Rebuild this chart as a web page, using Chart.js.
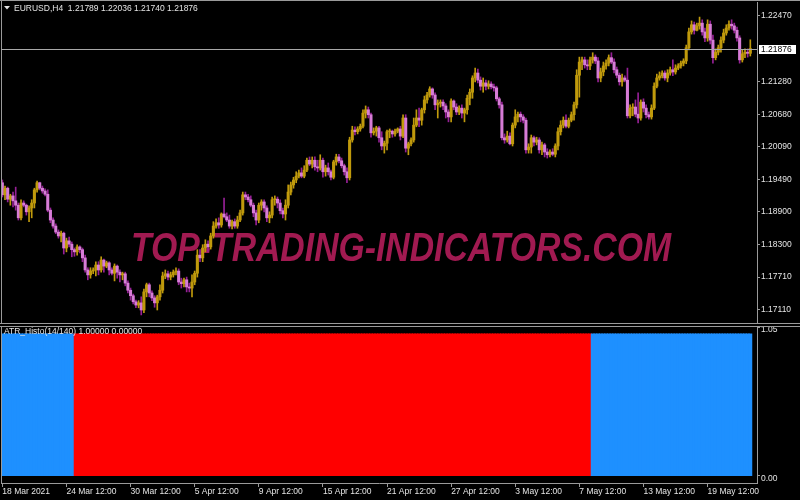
<!DOCTYPE html>
<html><head><meta charset="utf-8">
<script src="https://cdn.jsdelivr.net/npm/chart.js@4.4.1/dist/chart.umd.min.js"></script>
<style>
html,body{margin:0;padding:0;background:#000;width:800px;height:500px;overflow:hidden}
canvas{position:absolute;left:0}
#c1{top:0}
#c2{top:325px}
</style></head><body>
<canvas id="c1" width="800" height="325"></canvas>
<canvas id="c2" width="800" height="175"></canvas>
<script>
const symbolTitle = 'EURUSD,H4';
const opens = [
1.1943,1.1921,1.1933,1.1913,1.1919,1.1910,1.1902,1.1879,1.1906,1.1902,
1.1890,1.1897,1.1906,1.1930,1.1943,1.1933,1.1928,1.1922,1.1893,1.1875,
1.1864,1.1853,1.1846,1.1851,1.1824,1.1837,1.1831,1.1821,1.1817,1.1826,
1.1821,1.1806,1.1784,1.1775,1.1782,1.1784,1.1793,1.1784,1.1802,1.1791,
1.1797,1.1784,1.1778,1.1791,1.1780,1.1775,1.1777,1.1760,1.1747,1.1737,
1.1726,1.1720,1.1724,1.1711,1.1744,1.1757,1.1742,1.1733,1.1724,1.1735,
1.1747,1.1773,1.1777,1.1771,1.1775,1.1780,1.1782,1.1762,1.1759,1.1766,
1.1753,1.1751,1.1762,1.1778,1.1811,1.1806,1.1824,1.1831,1.1826,1.1846,
1.1864,1.1870,1.1866,1.1886,1.1881,1.1875,1.1864,1.1872,1.1864,1.1875,
1.1888,1.1921,1.1917,1.1912,1.1902,1.1888,1.1875,1.1902,1.1908,1.1897,
1.1879,1.1884,1.1912,1.1913,1.1906,1.1892,1.1886,1.1902,1.1926,1.1939,
1.1948,1.1955,1.1961,1.1955,1.1966,1.1984,1.1977,1.1984,1.1972,1.1970,
1.1984,1.1963,1.1970,1.1963,1.1953,1.1981,1.1990,1.1983,1.1974,1.1963,
1.1952,1.2021,1.2039,1.2036,1.2041,1.2046,1.2070,1.2076,1.2067,1.2034,
1.2037,1.2043,1.2025,1.2010,1.2015,1.2036,1.2037,1.2032,1.2037,1.2041,
1.2028,1.2061,1.2006,1.2014,1.2021,1.2048,1.2061,1.2057,1.2076,1.2094,
1.2103,1.2114,1.2103,1.2085,1.2088,1.2090,1.2083,1.2072,1.2063,1.2092,
1.2081,1.2072,1.2079,1.2070,1.2076,1.2097,1.2108,1.2134,1.2143,1.2130,
1.2119,1.2125,1.2119,1.2123,1.2118,1.2116,1.2096,1.2085,1.2025,1.2021,
1.2028,1.2014,1.2048,1.2063,1.2068,1.2063,1.2057,1.2003,1.2008,1.2025,
1.2017,1.2021,1.2003,1.2012,1.1999,1.1994,1.1999,1.1995,1.2010,1.2036,
1.2048,1.2057,1.2046,1.2057,1.2067,1.2085,1.2139,1.2163,1.2167,1.2158,
1.2156,1.2167,1.2172,1.2165,1.2134,1.2145,1.2156,1.2161,1.2171,1.2163,
1.2149,1.2139,1.2127,1.2134,1.2130,1.2065,1.2079,1.2081,1.2068,1.2061,
1.2090,1.2079,1.2067,1.2063,1.2079,1.2119,1.2134,1.2138,1.2143,1.2134,
1.2143,1.2149,1.2145,1.2152,1.2156,1.2161,1.2165,1.2189,1.2218,1.2231,
1.2221,1.2229,1.2234,1.2218,1.2207,1.2232,1.2203,1.2171,1.2181,1.2189,
1.2203,1.2216,1.2225,1.2232,1.2229,1.2221,1.2207,1.2167,1.2178,1.2181,
1.21789];
const highs = [
1.1948,1.1937,1.1935,1.1922,1.1926,1.1935,1.1906,1.1912,1.1910,1.1904,
1.1901,1.1912,1.1933,1.1946,1.1944,1.1937,1.1932,1.1930,1.1897,1.1879,
1.1868,1.1857,1.1855,1.1853,1.1842,1.1844,1.1835,1.1824,1.1830,1.1828,
1.1824,1.1811,1.1788,1.1788,1.1788,1.1799,1.1799,1.1808,1.1804,1.1800,
1.1799,1.1788,1.1795,1.1793,1.1784,1.1780,1.1780,1.1764,1.1751,1.1740,
1.1729,1.1728,1.1735,1.1749,1.1760,1.1760,1.1746,1.1737,1.1738,1.1757,
1.1780,1.1784,1.1782,1.1780,1.1784,1.1788,1.1786,1.1769,1.1769,1.1771,
1.1760,1.1775,1.1782,1.1821,1.1821,1.1830,1.1839,1.1837,1.1851,1.1872,
1.1877,1.1879,1.1888,1.1915,1.1888,1.1884,1.1875,1.1877,1.1882,1.1893,
1.1926,1.1926,1.1922,1.1919,1.1906,1.1893,1.1906,1.1912,1.1912,1.1901,
1.1890,1.1917,1.1919,1.1917,1.1912,1.1897,1.1912,1.1939,1.1944,1.1953,
1.1963,1.1966,1.1970,1.1974,1.1988,1.1990,1.1990,1.1990,1.1984,1.1994,
1.1988,1.1975,1.1979,1.1966,1.1984,1.1995,1.1995,1.1988,1.1977,1.1970,
1.2026,1.2046,1.2045,1.2045,1.2050,1.2076,1.2083,1.2081,1.2070,1.2043,
1.2046,1.2046,1.2036,1.2019,1.2039,1.2041,1.2039,1.2041,1.2043,1.2046,
1.2067,1.2067,1.2017,1.2025,1.2061,1.2076,1.2079,1.2079,1.2101,1.2108,
1.2118,1.2116,1.2107,1.2094,1.2094,1.2094,1.2087,1.2076,1.2096,1.2094,
1.2087,1.2083,1.2085,1.2079,1.2103,1.2114,1.2138,1.2152,1.2150,1.2136,
1.2134,1.2130,1.2129,1.2127,1.2123,1.2119,1.2099,1.2090,1.2032,1.2037,
1.2034,1.2052,1.2076,1.2072,1.2072,1.2067,1.2061,1.2014,1.2030,1.2028,
1.2026,1.2025,1.2017,1.2015,1.2005,1.2003,1.2005,1.2014,1.2043,1.2056,
1.2063,1.2067,1.2061,1.2072,1.2090,1.2149,1.2172,1.2172,1.2172,1.2167,
1.2172,1.2180,1.2176,1.2171,1.2152,1.2163,1.2167,1.2176,1.2180,1.2169,
1.2154,1.2143,1.2141,1.2138,1.2152,1.2085,1.2087,1.2094,1.2107,1.2094,
1.2096,1.2085,1.2072,1.2085,1.2125,1.2141,1.2145,1.2147,1.2147,1.2149,
1.2154,1.2167,1.2158,1.2160,1.2165,1.2169,1.2194,1.2225,1.2238,1.2236,
1.2234,1.2245,1.2240,1.2225,1.2240,1.2238,1.2212,1.2187,1.2194,1.2209,
1.2223,1.2231,1.2238,1.2240,1.2234,1.2227,1.2211,1.2185,1.2187,1.2187,
1.22036];
const lows = [
1.1917,1.1912,1.1908,1.1902,1.1899,1.1893,1.1875,1.1875,1.1899,1.1884,
1.1872,1.1879,1.1897,1.1926,1.1930,1.1924,1.1919,1.1890,1.1870,1.1860,
1.1850,1.1842,1.1835,1.1813,1.1817,1.1826,1.1808,1.1809,1.1811,1.1815,
1.1799,1.1780,1.1766,1.1769,1.1777,1.1773,1.1775,1.1780,1.1780,1.1788,
1.1775,1.1775,1.1764,1.1769,1.1762,1.1766,1.1755,1.1742,1.1729,1.1722,
1.1715,1.1715,1.1702,1.1706,1.1735,1.1735,1.1728,1.1716,1.1711,1.1729,
1.1742,1.1768,1.1766,1.1766,1.1771,1.1775,1.1757,1.1751,1.1753,1.1744,
1.1744,1.1735,1.1757,1.1771,1.1799,1.1799,1.1817,1.1817,1.1822,1.1842,
1.1860,1.1860,1.1862,1.1879,1.1872,1.1860,1.1859,1.1860,1.1860,1.1872,
1.1884,1.1912,1.1908,1.1899,1.1881,1.1866,1.1870,1.1893,1.1890,1.1872,
1.1870,1.1879,1.1902,1.1897,1.1886,1.1879,1.1875,1.1897,1.1921,1.1933,
1.1943,1.1952,1.1952,1.1952,1.1963,1.1974,1.1970,1.1966,1.1963,1.1966,
1.1953,1.1955,1.1957,1.1948,1.1950,1.1975,1.1979,1.1970,1.1957,1.1943,
1.1948,1.2017,1.2030,1.2032,1.2037,1.2043,1.2061,1.2061,1.2026,1.2030,
1.2028,1.2017,1.2003,1.1997,1.2003,1.2025,1.2026,1.2028,1.2034,1.2021,
1.2025,1.1999,1.1994,1.2010,1.2017,1.2045,1.2045,1.2048,1.2070,1.2088,
1.2099,1.2097,1.2076,1.2061,1.2081,1.2076,1.2061,1.2054,1.2054,1.2076,
1.2067,1.2067,1.2061,1.2054,1.2068,1.2085,1.2097,1.2127,1.2125,1.2112,
1.2108,1.2112,1.2114,1.2114,1.2110,1.2092,1.2079,1.2021,1.2015,1.2017,
1.2012,1.2010,1.2043,1.2054,1.2054,1.2052,1.1997,1.1997,1.1997,1.2010,
1.2012,1.1997,1.1994,1.1990,1.1988,1.1990,1.1992,1.1990,1.2003,1.2030,
1.2043,1.2043,1.2043,1.2054,1.2057,1.2079,1.2099,1.2149,1.2152,1.2149,
1.2149,1.2161,1.2160,1.2127,1.2127,1.2138,1.2150,1.2156,1.2160,1.2143,
1.2134,1.2121,1.2119,1.2127,1.2061,1.2061,1.2065,1.2063,1.2052,1.2057,
1.2072,1.2061,1.2059,1.2059,1.2076,1.2116,1.2130,1.2134,1.2130,1.2127,
1.2139,1.2138,1.2141,1.2149,1.2152,1.2156,1.2160,1.2185,1.2214,1.2214,
1.2220,1.2223,1.2212,1.2200,1.2201,1.2196,1.2161,1.2167,1.2176,1.2181,
1.2198,1.2212,1.2221,1.2223,1.2216,1.2201,1.2161,1.2163,1.2171,1.2172,
1.21740];
const closes = [
1.1921,1.1933,1.1913,1.1919,1.1910,1.1902,1.1879,1.1906,1.1902,1.1890,
1.1897,1.1906,1.1930,1.1943,1.1933,1.1928,1.1922,1.1893,1.1875,1.1864,
1.1853,1.1846,1.1851,1.1824,1.1837,1.1831,1.1821,1.1817,1.1826,1.1821,
1.1806,1.1784,1.1775,1.1782,1.1784,1.1793,1.1784,1.1802,1.1791,1.1797,
1.1784,1.1778,1.1791,1.1780,1.1775,1.1777,1.1760,1.1747,1.1737,1.1726,
1.1720,1.1724,1.1711,1.1744,1.1757,1.1742,1.1733,1.1724,1.1735,1.1747,
1.1773,1.1777,1.1771,1.1775,1.1780,1.1782,1.1762,1.1759,1.1766,1.1753,
1.1751,1.1762,1.1778,1.1811,1.1806,1.1824,1.1831,1.1826,1.1846,1.1864,
1.1870,1.1866,1.1886,1.1881,1.1875,1.1864,1.1872,1.1864,1.1875,1.1888,
1.1921,1.1917,1.1912,1.1902,1.1888,1.1875,1.1902,1.1908,1.1897,1.1879,
1.1884,1.1912,1.1913,1.1906,1.1892,1.1886,1.1902,1.1926,1.1939,1.1948,
1.1955,1.1961,1.1955,1.1966,1.1984,1.1977,1.1984,1.1972,1.1970,1.1984,
1.1963,1.1970,1.1963,1.1953,1.1981,1.1990,1.1983,1.1974,1.1963,1.1952,
1.2021,1.2039,1.2036,1.2041,1.2046,1.2070,1.2076,1.2067,1.2034,1.2037,
1.2043,1.2025,1.2010,1.2015,1.2036,1.2037,1.2032,1.2037,1.2041,1.2028,
1.2061,1.2006,1.2014,1.2021,1.2048,1.2061,1.2057,1.2076,1.2094,1.2103,
1.2114,1.2103,1.2085,1.2088,1.2090,1.2083,1.2072,1.2063,1.2092,1.2081,
1.2072,1.2079,1.2070,1.2076,1.2097,1.2108,1.2134,1.2143,1.2130,1.2119,
1.2125,1.2119,1.2123,1.2118,1.2116,1.2096,1.2085,1.2025,1.2021,1.2028,
1.2014,1.2048,1.2063,1.2068,1.2063,1.2057,1.2003,1.2008,1.2025,1.2017,
1.2021,1.2003,1.2012,1.1999,1.1994,1.1999,1.1995,1.2010,1.2036,1.2048,
1.2057,1.2046,1.2057,1.2067,1.2085,1.2139,1.2163,1.2167,1.2158,1.2156,
1.2167,1.2172,1.2165,1.2134,1.2145,1.2156,1.2161,1.2171,1.2163,1.2149,
1.2139,1.2127,1.2134,1.2130,1.2065,1.2079,1.2081,1.2068,1.2061,1.2090,
1.2079,1.2067,1.2063,1.2079,1.2119,1.2134,1.2138,1.2143,1.2134,1.2143,
1.2149,1.2145,1.2152,1.2156,1.2161,1.2165,1.2189,1.2218,1.2231,1.2221,
1.2229,1.2234,1.2218,1.2207,1.2232,1.2203,1.2171,1.2181,1.2189,1.2203,
1.2216,1.2225,1.2232,1.2229,1.2221,1.2207,1.2167,1.2178,1.2181,1.2179,
1.21876];
// ATR_Histo buffers (blue = buffer 0, red = buffer 1)
const histoBlue = [
1,1,1,1,1,1,1,1,1,1,1,1,1,1,1,1,1,1,1,1,
1,1,1,1,1,1,1,0,0,0,0,0,0,0,0,0,0,0,0,0,
0,0,0,0,0,0,0,0,0,0,0,0,0,0,0,0,0,0,0,0,
0,0,0,0,0,0,0,0,0,0,0,0,0,0,0,0,0,0,0,0,
0,0,0,0,0,0,0,0,0,0,0,0,0,0,0,0,0,0,0,0,
0,0,0,0,0,0,0,0,0,0,0,0,0,0,0,0,0,0,0,0,
0,0,0,0,0,0,0,0,0,0,0,0,0,0,0,0,0,0,0,0,
0,0,0,0,0,0,0,0,0,0,0,0,0,0,0,0,0,0,0,0,
0,0,0,0,0,0,0,0,0,0,0,0,0,0,0,0,0,0,0,0,
0,0,0,0,0,0,0,0,0,0,0,0,0,0,0,0,0,0,0,0,
0,0,0,0,0,0,0,0,0,0,0,0,0,0,0,0,0,0,0,0,
0,1,1,1,1,1,1,1,1,1,1,1,1,1,1,1,1,1,1,1,
1,1,1,1,1,1,1,1,1,1,1,1,1,1,1,1,1,1,1,1,
1,1,1,1,1,1,1,1,1,1,1,1,1,1,1,1,1,1,1,1,
1];
const histoRed = [
0,0,0,0,0,0,0,0,0,0,0,0,0,0,0,0,0,0,0,0,
0,0,0,0,0,0,0,1,1,1,1,1,1,1,1,1,1,1,1,1,
1,1,1,1,1,1,1,1,1,1,1,1,1,1,1,1,1,1,1,1,
1,1,1,1,1,1,1,1,1,1,1,1,1,1,1,1,1,1,1,1,
1,1,1,1,1,1,1,1,1,1,1,1,1,1,1,1,1,1,1,1,
1,1,1,1,1,1,1,1,1,1,1,1,1,1,1,1,1,1,1,1,
1,1,1,1,1,1,1,1,1,1,1,1,1,1,1,1,1,1,1,1,
1,1,1,1,1,1,1,1,1,1,1,1,1,1,1,1,1,1,1,1,
1,1,1,1,1,1,1,1,1,1,1,1,1,1,1,1,1,1,1,1,
1,1,1,1,1,1,1,1,1,1,1,1,1,1,1,1,1,1,1,1,
1,1,1,1,1,1,1,1,1,1,1,1,1,1,1,1,1,1,1,1,
1,0,0,0,0,0,0,0,0,0,0,0,0,0,0,0,0,0,0,0,
0,0,0,0,0,0,0,0,0,0,0,0,0,0,0,0,0,0,0,0,
0,0,0,0,0,0,0,0,0,0,0,0,0,0,0,0,0,0,0,0,
0];
const histoName = 'ATR_Histo(14/140)';
const priceTicks = [1.22470, 1.21280, 1.20680, 1.20090, 1.19490, 1.18900, 1.18300, 1.17710, 1.17110];
const priceMin = 1.16891, priceMax = 1.22725;
const histoTicks = [1.05, 0.00];
const histoMin = -0.05, histoMax = 1.05;
const timeTickLabels = ['18 Mar 2021','24 Mar 12:00','30 Mar 12:00','5 Apr 12:00','9 Apr 12:00','15 Apr 12:00','21 Apr 12:00','27 Apr 12:00','3 May 12:00','7 May 12:00','13 May 12:00','19 May 12:00'];
const barsPerTimeTick = 24;
const slotCount = 283;
const watermark = 'TOP-TRADING-INDICATORS.COM';

// ---------- styling ----------
const FONT = '"Liberation Sans", Arial, sans-serif';
const FS = 8.5;
const TXT = '#e4e4e4';
const LINE = '#9a9a9a';
const BULL = '#C09A0C', BEAR = '#D77CD7', BEAR_WICK = '#962096';
Chart.defaults.font.family = FONT;
Chart.defaults.font.size = FS;
Chart.defaults.color = TXT;

const N = closes.length;
const lastIdx = N - 1;
const isBull = closes.map((c, i) => c >= opens[i]);
const wickData = lows.map((l, i) => [l, highs[i]]);
const bodyData = opens.map((o, i) => [o, closes[i]]);
const slots = Array.from({length: slotCount}, (_, i) => i);

function noPad(s) { s.width = 43; s.paddingTop = 0; s.paddingBottom = 0; }

const topPlugin = {
  id: 'topDecor',
  beforeDatasetsDraw(chart) {
    const ctx = chart.ctx, a = chart.chartArea;
    ctx.save();
    ctx.font = 'italic bold 40px ' + FONT;
    const w = ctx.measureText(watermark).width;
    const target = 540;
    ctx.translate(401, 261);
    ctx.scale(target / w, 1);
    ctx.fillStyle = '#A11A51';
    ctx.textAlign = 'center';
    ctx.textBaseline = 'alphabetic';
    ctx.fillText(watermark, 0, 0);
    ctx.restore();
  },
  afterDraw(chart) {
    const ctx = chart.ctx, a = chart.chartArea, y = chart.scales.y;
    ctx.save();
    ctx.strokeStyle = LINE; ctx.lineWidth = 1;
    ctx.beginPath();
    ctx.moveTo(0, 0.5); ctx.lineTo(800, 0.5);
    ctx.moveTo(1.5, 0); ctx.lineTo(1.5, 324);
    ctx.moveTo(0, 323.5); ctx.lineTo(800, 323.5);
    ctx.stroke();
    const py = Math.round(y.getPixelForValue(closes[lastIdx])) + 0.5;
    ctx.strokeStyle = '#a8a8a8';
    ctx.beginPath(); ctx.moveTo(a.left, py); ctx.lineTo(a.right, py); ctx.stroke();
    ctx.fillStyle = '#ffffff';
    ctx.fillRect(759, py - 4.5, 37, 9);
    ctx.fillStyle = '#000000';
    ctx.font = FS + 'px ' + FONT;
    ctx.textBaseline = 'middle'; ctx.textAlign = 'left';
    ctx.fillText(closes[lastIdx].toFixed(5), 761, py + 0.5);
    ctx.fillStyle = TXT;
    ctx.beginPath(); ctx.moveTo(4, 6); ctx.lineTo(10, 6); ctx.lineTo(7, 9.5); ctx.closePath(); ctx.fill();
    const t = symbolTitle + '  ' + [opens[lastIdx], highs[lastIdx], lows[lastIdx], closes[lastIdx]].map(v => v.toFixed(5)).join(' ');
    ctx.fillText(t, 14, 8.5);
    ctx.restore();
  }
};

new Chart(document.getElementById('c1'), {
  type: 'bar',
  data: {
    labels: slots,
    datasets: [
      {data: wickData, backgroundColor: isBull.map(b => b ? BULL : BEAR_WICK), barThickness: 1, grouped: false, order: 2, minBarLength: 1, borderWidth: 0},
      {data: bodyData, backgroundColor: isBull.map(b => b ? BULL : BEAR), barThickness: 2.4, grouped: false, order: 1, minBarLength: 1, borderWidth: 0}
    ]
  },
  options: {
    responsive: false, animation: false, devicePixelRatio: 1,
    layout: {padding: {left: 1, top: 2, bottom: 3, right: 0}},
    plugins: {legend: {display: false}, tooltip: {enabled: false}},
    scales: {
      x: {display: false, offset: true},
      y: {
        position: 'right', min: priceMin, max: priceMax,
        afterFit: noPad,
        afterBuildTicks(s) { s.ticks = priceTicks.map(v => ({value: v})); },
        ticks: {color: TXT, padding: 1, callback: v => Number(v).toFixed(5)},
        grid: {drawOnChartArea: false, tickLength: 3, color: LINE},
        border: {color: LINE}
      }
    }
  },
  plugins: [topPlugin]
});

const botPlugin = {
  id: 'botDecor',
  afterDraw(chart) {
    const ctx = chart.ctx;
    ctx.save();
    ctx.strokeStyle = LINE; ctx.lineWidth = 1;
    ctx.beginPath();
    ctx.moveTo(0, 1.5); ctx.lineTo(800, 1.5);
    ctx.moveTo(1.5, 1); ctx.lineTo(1.5, 159);
    ctx.stroke();
    ctx.fillStyle = TXT;
    ctx.font = FS + 'px ' + FONT;
    ctx.textBaseline = 'middle'; ctx.textAlign = 'left';
    ctx.fillText(histoName + ' ' + histoBlue[lastIdx].toFixed(5) + ' ' + histoRed[lastIdx].toFixed(5), 4, 7);
    ctx.restore();
  }
};

const onlyNonZero = col => ctx => (ctx.raw ? col : 'rgba(0,0,0,0)');

new Chart(document.getElementById('c2'), {
  type: 'bar',
  data: {
    labels: slots,
    datasets: [
      {data: histoBlue, backgroundColor: onlyNonZero('#1E90FF'), grouped: false, barPercentage: 1, categoryPercentage: 1, borderWidth: 0, inflateAmount: 0.6},
      {data: histoRed, backgroundColor: onlyNonZero('#FF0000'), grouped: false, barPercentage: 1, categoryPercentage: 1, borderWidth: 0, inflateAmount: 0.6}
    ]
  },
  options: {
    responsive: false, animation: false, devicePixelRatio: 1,
    layout: {padding: {left: 1, top: 2, bottom: 0, right: 0}},
    plugins: {legend: {display: false}, tooltip: {enabled: false}},
    scales: {
      x: {
        offset: true,
        afterFit(s) { s.height = 17; },
        afterBuildTicks(s) { s.ticks = s.ticks.filter(t => t.value % barsPerTimeTick === 0 && t.value / barsPerTimeTick < timeTickLabels.length); },
        ticks: {autoSkip: false, maxRotation: 0, minRotation: 0, align: 'start', padding: 0, color: TXT,
                callback: v => timeTickLabels[v / barsPerTimeTick]},
        grid: {drawOnChartArea: false, offset: false, tickLength: 4, color: LINE},
        border: {color: LINE}
      },
      y: {
        position: 'right', min: histoMin, max: histoMax,
        afterFit: noPad,
        afterBuildTicks(s) { s.ticks = histoTicks.map(v => ({value: v})); },
        ticks: {color: TXT, padding: 1, labelOffset: 3, callback: v => Number(v).toFixed(2)},
        grid: {drawOnChartArea: false, tickLength: 3, color: LINE},
        border: {color: LINE}
      }
    }
  },
  plugins: [botPlugin]
});
</script>
</body></html>
